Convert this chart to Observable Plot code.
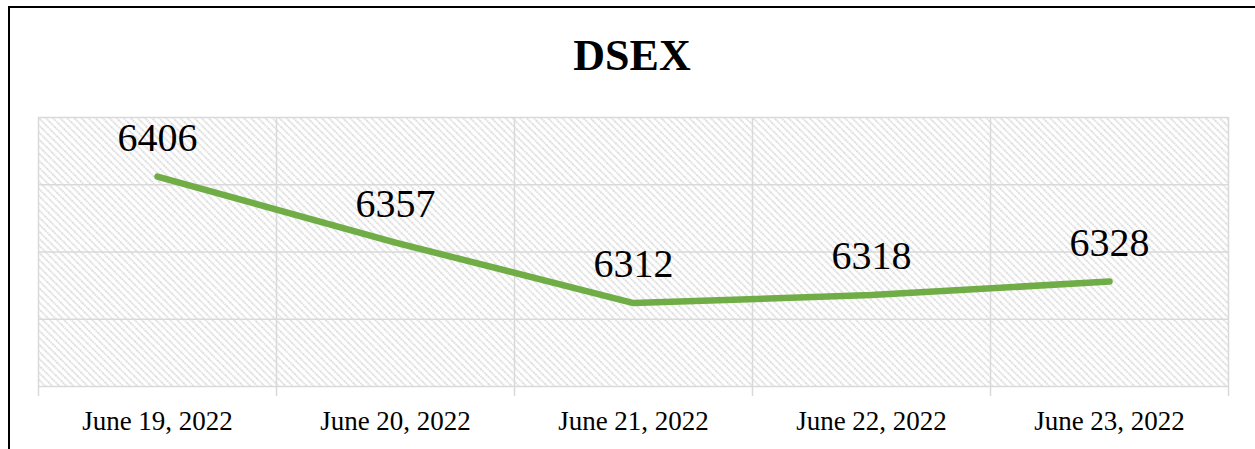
<!DOCTYPE html>
<html>
<head>
<meta charset="utf-8">
<script src="https://cdn.jsdelivr.net/npm/d3@7"></script>
<script src="https://cdn.jsdelivr.net/npm/@observablehq/plot@0.6"></script>
<style>
  html, body { margin: 0; padding: 0; background: #fff; }
  #wrap { position: relative; width: 1255px; height: 449px; overflow: hidden; }
  #frame { position: absolute; left: 8px; top: 6px; right: -10px; bottom: -10px;
           border-top: 2px solid #000; border-left: 2px solid #000; pointer-events: none; }
  #title { position: absolute; left: 9px; right: 0; top: 34px; text-align: center;
           font-family: "Liberation Serif", serif; font-weight: bold; font-size: 44px; line-height: 44px; color: #000; }
  #chart { position: absolute; left: 0; top: 0; }
</style>
</head>
<body>
<div id="wrap">
  <div id="chart"></div>
  <div id="frame"></div>
  <div id="title">DSEX</div>
</div>
<script>
const categories = ["June 19, 2022", "June 20, 2022", "June 21, 2022", "June 22, 2022", "June 23, 2022"];
const values = [6406, 6357, 6312, 6318, 6328];
const yTicks = [6250, 6300, 6350, 6400, 6450];

const data = categories.map((c, i) => ({i, c, v: values[i]}));
const bounds = d3.range(-0.5, categories.length, 1);

const plot = Plot.plot({
  width: 1255,
  height: 449,
  marginTop: 117,
  marginLeft: 38,
  marginRight: 27,
  marginBottom: 63,
  style: {fontFamily: "Liberation Serif, serif", background: "transparent", overflow: "visible"},
  x: {domain: [-0.5, categories.length - 0.5], axis: null},
  y: {domain: [yTicks[0], yTicks[yTicks.length - 1]], axis: null},
  marks: [
    Plot.frame({fill: "url(#hatch)", stroke: "none"}),
    Plot.ruleY(yTicks, {stroke: "#d9d9d9", strokeWidth: 1.5}),
    Plot.ruleX(bounds, {y1: yTicks[yTicks.length - 1], y2: yTicks[0], insetBottom: -10, stroke: "#d9d9d9", strokeWidth: 1.5}),
    Plot.line(data, {x: "i", y: "v", stroke: "#70AD47", strokeWidth: 6.5, strokeLinecap: "round", strokeLinejoin: "round"}),
    Plot.text(data, {x: "i", y: "v", text: d => String(d.v), lineAnchor: "bottom", dy: -26, fontSize: 40, fill: "#000"}),
    Plot.text(data, {x: "i", y: yTicks[0], text: "c", lineAnchor: "top", dy: 24, fontSize: 27, fill: "#000"})
  ]
});

const ns = "http://www.w3.org/2000/svg";
const defs = document.createElementNS(ns, "defs");
const pat = document.createElementNS(ns, "pattern");
pat.setAttribute("id", "hatch");
pat.setAttribute("patternUnits", "userSpaceOnUse");
pat.setAttribute("width", "8");
pat.setAttribute("height", "5");
pat.setAttribute("patternTransform", "rotate(45)");
const ln = document.createElementNS(ns, "line");
ln.setAttribute("x1", "0"); ln.setAttribute("x2", "8");
ln.setAttribute("y1", "1"); ln.setAttribute("y2", "1");
ln.setAttribute("stroke", "#d2d2d2");
ln.setAttribute("stroke-width", "1.4");
ln.setAttribute("stroke-dasharray", "1.6 0.8");
pat.appendChild(ln);
defs.appendChild(pat);
plot.insertBefore(defs, plot.firstChild);

document.getElementById("chart").appendChild(plot);
</script>
</body>
</html>
